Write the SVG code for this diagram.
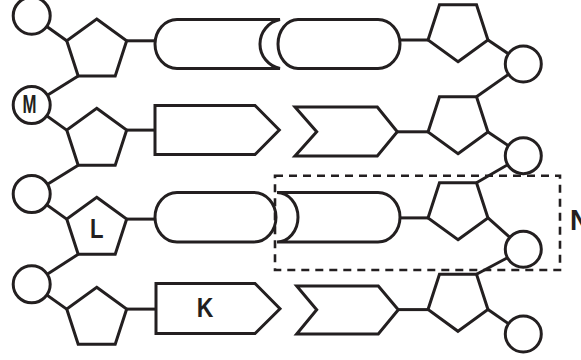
<svg xmlns="http://www.w3.org/2000/svg" xmlns:xlink="http://www.w3.org/1999/xlink" width="581" height="360" viewBox="0 0 581 360">
<style>
.s{fill:#fff;stroke:#231f20;stroke-width:3;stroke-linejoin:miter}
.c line{stroke:#231f20;stroke-width:3}
.t{font-family:"Liberation Sans",Arial,sans-serif;font-weight:bold;fill:#231f20}
.box{fill:none;stroke:#231f20;stroke-width:2.6;stroke-dasharray:8 6}
</style>
<defs>
<polygon id="pu" points="0,-31.5 29.96,-9.73 18.52,25.48 -18.52,25.48 -29.96,-9.73"/>
<polygon id="pd" points="0,31.5 29.96,9.73 18.52,-25.48 -18.52,-25.48 -29.96,9.73"/>
</defs>
<rect width="581" height="360" fill="#fff"/>
<g id="connectors" class="c">
<line x1="31.7" y1="15.7" x2="66.7" y2="40.8"/>
<line x1="78.2" y1="76" x2="31.7" y2="105"/>
<line x1="31.7" y1="105" x2="66.7" y2="130.1"/>
<line x1="78.2" y1="165.3" x2="31.7" y2="194"/>
<line x1="31.7" y1="194" x2="66.7" y2="219.1"/>
<line x1="78.2" y1="254.3" x2="31.7" y2="284.3"/>
<line x1="31.7" y1="284.3" x2="66.7" y2="309.1"/>
<line x1="126.7" y1="40.8" x2="157" y2="40.8"/>
<line x1="126.7" y1="130.1" x2="155" y2="130.1"/>
<line x1="126.7" y1="219.1" x2="157" y2="219.1"/>
<line x1="126.7" y1="309.1" x2="156" y2="309.1"/>
<line x1="398" y1="40" x2="428" y2="40"/>
<line x1="397.3" y1="131.8" x2="428" y2="131.8"/>
<line x1="398" y1="217.9" x2="428" y2="217.9"/>
<line x1="398.3" y1="309.6" x2="428" y2="309.6"/>
<line x1="488" y1="39.9" x2="523.3" y2="64"/>
<line x1="523.3" y1="64" x2="476.5" y2="96.7"/>
<line x1="488" y1="131.9" x2="523.3" y2="155.7"/>
<line x1="523.3" y1="155.7" x2="476.5" y2="182.7"/>
<line x1="488" y1="217.9" x2="523.3" y2="249.3"/>
<line x1="523.3" y1="249.3" x2="476.5" y2="274.3"/>
<line x1="488" y1="309.5" x2="523.3" y2="334"/>
</g>
<g id="left-circles">
<circle id="lc1" class="s" cx="31.7" cy="15.7" r="18.5"/>
<g id="lc2"><circle class="s" cx="31.7" cy="105" r="18.5"/><text class="t" x="22.5" y="113.3" font-size="25" textLength="14" lengthAdjust="spacingAndGlyphs">M</text></g>
<circle id="lc3" class="s" cx="31.7" cy="194" r="18.5"/>
<circle id="lc4" class="s" cx="31.7" cy="284.3" r="18.5"/>
</g>
<g id="left-pentagons">
<use id="lp1" xlink:href="#pu" class="s" x="96.7" y="50.5"/>
<use id="lp2" xlink:href="#pu" class="s" x="96.7" y="139.8"/>
<g id="lp3"><use xlink:href="#pu" class="s" x="96.7" y="228.8"/><text class="t" x="90" y="238.3" font-size="28" textLength="13.5" lengthAdjust="spacingAndGlyphs">L</text></g>
<use id="lp4" xlink:href="#pu" class="s" x="96.7" y="318.8"/>
</g>
<g id="bases">
<path id="b1" class="s" d="M177,19.5 H280 A25 25 0 0 0 280,68.5 H177 A22 24.5 0 0 1 177,19.5 Z"/>
<path id="b2" class="s" d="M298,19.5 H378 A22 24.5 0 0 1 378,68.5 H298 A20 24.5 0 0 1 298,19.5 Z"/>
<path id="b3" class="s" d="M155,105.5 H255 L279.3,130 L255,154.5 H155 Z"/>
<path id="b4" class="s" d="M295,107 H377.3 L397.3,131.8 L377.3,156 H295 L316.7,131.8 Z"/>
<path id="b5" class="s" d="M177,192.5 H254 A22 24.7 0 0 1 254,241.9 H177 A22 24.7 0 0 1 177,192.5 Z"/>
<path id="b6" class="s" d="M277,192.5 H378 A22 24.7 0 0 1 378,241.9 H277 A21 24.7 0 0 0 277,192.5 Z"/>
<g id="b7"><path class="s" d="M156,283.5 H255 L280,308.7 L255,333.5 H156 Z"/><text class="t" x="196.7" y="316.7" font-size="28" textLength="16.6" lengthAdjust="spacingAndGlyphs">K</text></g>
<path id="b8" class="s" d="M296.7,286 H378.3 L398.3,309.8 L378.3,334 H296.7 L316.7,309.8 Z"/>
</g>
<g id="right-pentagons">
<use id="rp1" xlink:href="#pd" class="s" x="458" y="30.2"/>
<use id="rp2" xlink:href="#pd" class="s" x="458" y="122.2"/>
<use id="rp3" xlink:href="#pd" class="s" x="458" y="208.2"/>
<use id="rp4" xlink:href="#pd" class="s" x="458" y="299.8"/>
</g>
<g id="right-circles">
<circle id="rc1" class="s" cx="523.3" cy="64" r="18"/>
<circle id="rc2" class="s" cx="523.3" cy="155.7" r="18"/>
<circle id="rc3" class="s" cx="523.3" cy="249.3" r="18"/>
<circle id="rc4" class="s" cx="523.3" cy="334" r="18"/>
</g>
<g id="region-N">
<rect class="box" x="275" y="175.7" width="285" height="94.3"/>
<text class="t" x="570" y="230" font-size="30" textLength="20" lengthAdjust="spacingAndGlyphs">N</text>
</g>
</svg>
